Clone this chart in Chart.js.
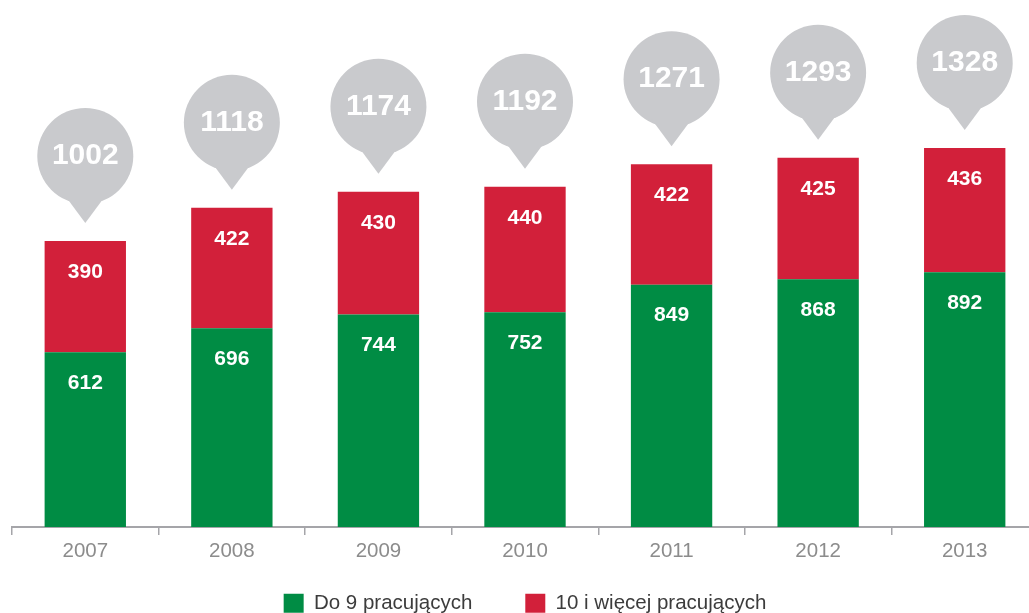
<!DOCTYPE html>
<html>
<head>
<meta charset="utf-8">
<script src="https://cdn.jsdelivr.net/npm/chart.js@4.4.1/dist/chart.umd.min.js"></script>
<style>
  html, body { margin: 0; padding: 0; background: #fff; overflow: hidden; }
  #wrap { width: 1038px; height: 613px; }
</style>
</head>
<body>
<div id="wrap"><canvas id="grafico"></canvas></div>
<script>
const lata = ["2007", "2008", "2009", "2010", "2011", "2012", "2013"];
const do9 = [612, 696, 744, 752, 849, 868, 892];
const powyzej10 = [390, 422, 430, 440, 422, 425, 436];
const sumy = [1002, 1118, 1174, 1192, 1271, 1293, 1328];

const ZIELONY = "#008c44";
const CZERWONY = "#d2203a";
const SZARY = "#c9cacd";
const FONT = "'Liberation Sans', Arial, sans-serif";

// etykiety na slupkach
const etykiety = {
  id: "etykiety",
  afterDatasetsDraw(chart) {
    const ctx = chart.ctx;
    ctx.save();
    ctx.fillStyle = "#fff";
    ctx.font = "bold 21px " + FONT;
    ctx.textAlign = "center";
    ctx.textBaseline = "middle";
    chart.data.datasets.forEach((ds, i) => {
      chart.getDatasetMeta(i).data.forEach((bar, j) => {
        ctx.fillText(ds.data[j], bar.x, bar.y + 31);
      });
    });
    ctx.restore();
  }
};

// dymki z suma
const dymki = {
  id: "dymki",
  afterDatasetsDraw(chart) {
    const ctx = chart.ctx;
    const x = chart.scales.x;
    const y = chart.scales.y;
    ctx.save();
    sumy.forEach((s, i) => {
      const cx = x.getPixelForValue(i);
      const tip = y.getPixelForValue(s) - 18;
      const cy = tip - 67;
      const r = 48;
      ctx.fillStyle = SZARY;
      ctx.beginPath();
      ctx.arc(cx, cy, r, 0, Math.PI * 2);
      ctx.fill();
      ctx.beginPath();
      ctx.moveTo(cx - 20, cy + r - 8);
      ctx.lineTo(cx, tip);
      ctx.lineTo(cx + 20, cy + r - 8);
      ctx.closePath();
      ctx.fill();
      ctx.fillStyle = "#fff";
      ctx.font = "bold 30px " + FONT;
      ctx.textAlign = "center";
      ctx.textBaseline = "middle";
      ctx.fillText(s, cx, cy);
    });
    ctx.restore();
  }
};

// legenda: duzy odstep poziomy, ale niska wysokosc
const legendaUklad = {
  id: "legendaUklad",
  afterInit(chart) {
    const lg = chart.legend;
    const fit = lg.fit;
    lg.fit = function () {
      fit.call(this);
      this.height = 40;
    };
  },
  afterLayout(chart) {
    const lg = chart.legend;
    lg.top = 540;
    lg.bottom = 613;
    lg.height = 73;
  }
};

new Chart(document.getElementById("grafico"), {
  type: "bar",
  data: {
    labels: lata,
    datasets: [
      { label: "Do 9 pracujących", data: do9, backgroundColor: ZIELONY },
      { label: "10 i więcej pracujących", data: powyzej10, backgroundColor: CZERWONY }
    ]
  },
  options: {
    responsive: true,
    maintainAspectRatio: false,
    animation: false,
    layout: { padding: { left: 12, right: 0, top: 0, bottom: 0 } },
    datasets: { bar: { barPercentage: 0.555, categoryPercentage: 1 } },
    plugins: {
      tooltip: { enabled: false },
      legend: {
        position: "bottom",
        labels: {
          boxWidth: 20,
          boxHeight: 19,
          padding: 53,
          color: "#3c3c3c",
          font: { size: 20.5, family: FONT }
        }
      }
    },
    scales: {
      x: {
        stacked: true,
        offset: true,
        afterFit: (os) => { os.height = 46; },
        grid: {
          offset: true,
          drawOnChartArea: false,
          drawTicks: true,
          tickLength: 8,
          color: "#a5a5a9",
          lineWidth: 1.5
        },
        border: { display: true, color: "#a5a5a9", width: 2 },
        ticks: {
          color: "#8c8c8c",
          padding: 4,
          font: { size: 20.5, family: FONT }
        }
      },
      y: {
        stacked: true,
        display: false,
        min: 0,
        max: 1846
      }
    }
  },
  plugins: [dymki, etykiety, legendaUklad]
});
</script>
</body>
</html>
